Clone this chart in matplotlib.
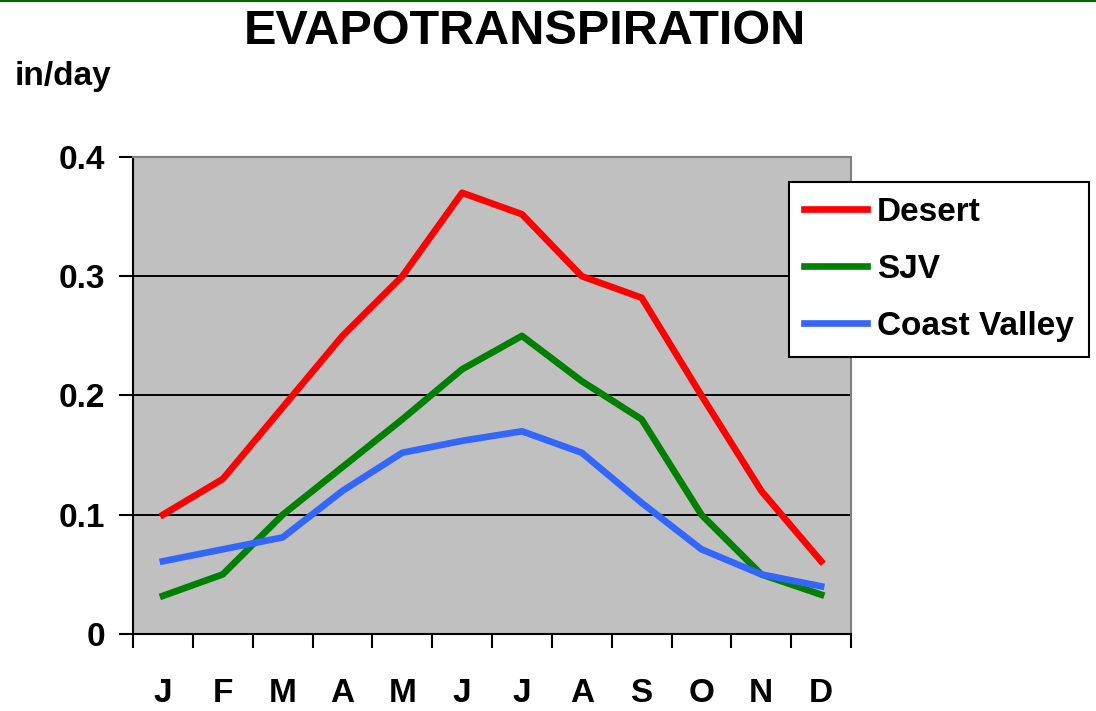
import numpy as np
import matplotlib
matplotlib.use("Agg")
import matplotlib.pyplot as plt
from matplotlib.lines import Line2D

months = ["J", "F", "M", "A", "M", "J", "J", "A", "S", "O", "N", "D"]
desert = [0.10, 0.13, 0.19, 0.25, 0.30, 0.37, 0.352, 0.30, 0.282, 0.20, 0.12, 0.061]
sjv = [0.032, 0.05, 0.10, 0.14, 0.18, 0.222, 0.25, 0.212, 0.18, 0.10, 0.05, 0.033]
coast = [0.061, 0.071, 0.081, 0.12, 0.152, 0.162, 0.17, 0.152, 0.11, 0.071, 0.05, 0.04]

plt.rcParams["font.family"] = ["Liberation Sans", "DejaVu Sans"]

fig = plt.figure(figsize=(10.96, 7.11), dpi=100)
ax = fig.add_axes([0.1214, 0.1083, 0.6551, 0.6709])
ax.set_facecolor("#C0C0C0")

x = np.arange(len(months)) + 0.5
ax.plot(x, desert, color="#FF0000", lw=4.8, label="Desert")
ax.plot(x, sjv, color="#008000", lw=4.8, label="SJV")
ax.plot(x, coast, color="#3366FF", lw=4.8, label="Coast Valley")

ax.set_xlim(0, 12)
ax.set_ylim(0, 0.4)
ax.set_yticks([0, 0.1, 0.2, 0.3, 0.4])
ax.set_yticklabels(["0", "0.1", "0.2", "0.3", "0.4"], fontsize=24, fontweight="bold")
ax.yaxis.grid(True, color="black", lw=1.4)
ax.set_axisbelow(True)

ax.set_xticks(np.arange(13))
ax.set_xticklabels([])
ax.set_xticks(x, minor=True)
ax.set_xticklabels(months, minor=True, fontsize=24, fontweight="bold")
ax.tick_params(axis="x", which="minor", length=0, pad=32)
ax.tick_params(axis="x", which="major", length=10, width=1.5, direction="out")
ax.tick_params(axis="y", length=10, width=1.5, direction="out", pad=10)

for s in ("left", "bottom"):
    ax.spines[s].set_color("black")
    ax.spines[s].set_linewidth(1.5)
for s in ("top", "right"):
    ax.spines[s].set_color("#808080")
    ax.spines[s].set_linewidth(1.5)

leg = ax.legend(loc="upper left", bbox_to_anchor=(0.913, 0.948), prop={"size": 24, "weight": "bold"},
                frameon=True, fancybox=False, edgecolor="black", framealpha=1,
                handlelength=1.9, handletextpad=0.3, labelspacing=0.78, borderpad=0.45,
                borderaxespad=0)
leg.get_frame().set_linewidth(1.5)

fig.text(0.479, 0.955, "EVAPOTRANSPIRATION", ha="center", va="center",
         fontsize=35, fontweight="bold")
fig.text(0.013, 0.892, "in/day", ha="left", va="center", fontsize=24, fontweight="bold")

fig.add_artist(Line2D([0, 1], [0.998, 0.998], color="#006400", lw=1.5, transform=fig.transFigure))

fig.savefig("out.png", dpi=100)
